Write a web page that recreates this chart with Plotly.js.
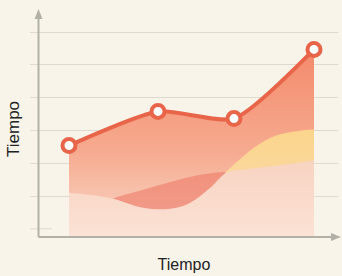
<!DOCTYPE html>
<html>
<head>
<meta charset="utf-8">
<script src="https://cdn.plot.ly/plotly-3.0.1.min.js"></script>
<style>html,body{margin:0;padding:0;background:#f8f4ea;}#chart{width:342px;height:276px;}</style>
</head>
<body>
<div id="chart"></div>
<script>
// Main series
const timeX = [0, 1.09, 2.02, 3.0];
const valueY = [2.79, 3.83, 3.61, 5.72];

// Decorative background waves
const lightWaveX = [0, 0.5, 0.91, 1.24, 1.48, 1.73, 1.93, 2.22, 2.64, 3.0];
const lightWaveY = [1.35, 1.19, 0.89, 0.86, 1.04, 1.5, 1.96, 2.08, 2.2, 2.34];
const darkWaveX = [0.38, 0.56, 0.91, 1.24, 1.61, 1.91, 2.03];
const darkWaveY = [0.98, 1.19, 1.44, 1.68, 1.9, 1.99, 1.99];
const yellowWaveX = [1.91, 2.09, 2.28, 2.53, 2.83, 3.0];
const yellowWaveY = [1.96, 2.36, 2.75, 3.09, 3.24, 3.28];

const gridVals = [1.25, 2.25, 3.25, 4.25, 5.25, 6.25];
const axisTitle = 'Tiempo';

const lineColor = '#e8654a';

const traces = [
  {x: timeX, y: valueY, type: 'scatter', mode: 'none', fill: 'tozeroy',
   line: {shape: 'spline', smoothing: 0.6},
   fillgradient: {type: 'vertical', colorscale: [[0, '#f9d9ca'], [0.45, '#f6ab90'], [1, '#f48a6c']]},
   hoverinfo: 'skip', showlegend: false},
  {x: darkWaveX, y: darkWaveY, type: 'scatter', mode: 'none', fill: 'tozeroy',
   line: {shape: 'spline', smoothing: 1},
   fillcolor: 'rgba(237,122,104,0.6)', hoverinfo: 'skip', showlegend: false},
  {x: yellowWaveX, y: yellowWaveY, type: 'scatter', mode: 'none', fill: 'tozeroy',
   line: {shape: 'spline', smoothing: 1},
   fillgradient: {type: 'vertical', colorscale: [[0, '#f9dcb2'], [1, '#fbd58c']]},
   hoverinfo: 'skip', showlegend: false},
  {x: lightWaveX, y: lightWaveY, type: 'scatter', mode: 'none', fill: 'tozeroy',
   line: {shape: 'spline', smoothing: 1},
   fillgradient: {type: 'vertical', colorscale: [[0, '#fbe2d5'], [1, '#f8d3c1']]},
   hoverinfo: 'skip', showlegend: false},
  {x: timeX, y: valueY, type: 'scatter', mode: 'lines+markers',
   line: {shape: 'spline', smoothing: 0.6, color: lineColor, width: 4},
   marker: {size: 13, color: '#ffffff', line: {color: lineColor, width: 4}},
   cliponaxis: false, showlegend: false}
];

const axisGray = '#b3b1a7';
const layout = {
  width: 342, height: 276,
  margin: {l: 30, r: 4, t: 14, b: 39},
  paper_bgcolor: '#f8f4ea', plot_bgcolor: '#f8f4ea',
  font: {family: 'Liberation Sans, Arial, sans-serif', color: '#222'},
  xaxis: {range: [-0.4775, 3.294], showgrid: false, zeroline: false, showticklabels: false,
          ticks: '', showline: false, fixedrange: true,
          title: {text: axisTitle, font: {size: 16, color: '#222'}, standoff: 21}},
  yaxis: {range: [0, 6.8], tickvals: gridVals, showgrid: true, gridcolor: '#dedace', gridwidth: 1,
          zeroline: false, showticklabels: false, ticks: '', showline: false, fixedrange: true,
          title: {text: ''}},
  annotations: [
    {text: axisTitle, xref: 'paper', yref: 'paper', x: -17/308, y: 108/223,
     xanchor: 'center', yanchor: 'middle', textangle: -90, showarrow: false,
     font: {size: 17, color: '#222'}}
  ],
  shapes: [
    {type: 'line', xref: 'paper', yref: 'y', x0: 0, x1: 22/308, y0: 0.25, y1: 0.25,
     line: {color: '#dedace', width: 1}},
    {type: 'line', xref: 'paper', yref: 'paper', x0: 8.5/308, x1: 8.5/308, y0: 0, y1: 219/223,
     line: {color: axisGray, width: 2}},
    {type: 'line', xref: 'paper', yref: 'paper', x0: 8.5/308, x1: 302/308, y0: 0, y1: 0,
     line: {color: axisGray, width: 2}},
    {type: 'path', xref: 'paper', yref: 'paper',
     path: 'M ' + (8.5/308) + ' ' + (228/223) + ' L ' + (4.5/308) + ' ' + (218/223) + ' L ' + (12.5/308) + ' ' + (218/223) + ' Z',
     fillcolor: axisGray, line: {width: 0}},
    {type: 'path', xref: 'paper', yref: 'paper',
     path: 'M ' + (311/308) + ' 0 L ' + (301/308) + ' ' + (4/223) + ' L ' + (301/308) + ' ' + (-4/223) + ' Z',
     fillcolor: axisGray, line: {width: 0}}
  ]
};

Plotly.newPlot('chart', traces, layout, {displayModeBar: false, staticPlot: true});
</script>
</body>
</html>
